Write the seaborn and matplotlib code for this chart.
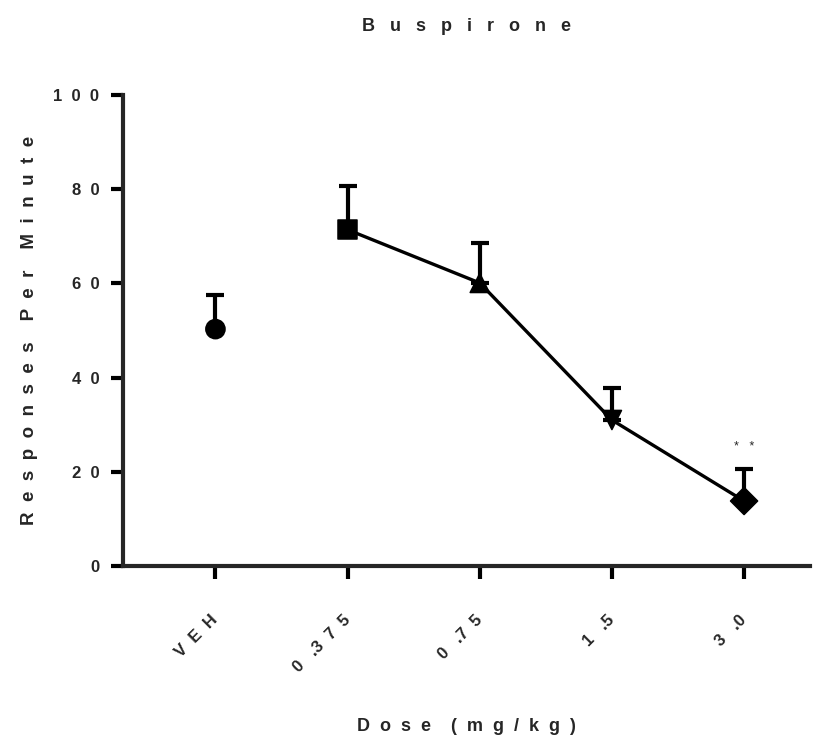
import numpy as np
import pandas as pd
import matplotlib
matplotlib.use("Agg")
import matplotlib.pyplot as plt
import seaborn as sns

# Data
doses = ["VEH", "0.375", "0.75", "1.5", "3.0"]
means = [50.3, 71.4, 60.1, 31.0, 13.8]
sem_upper = [7.2, 9.3, 8.5, 6.8, 6.8]
markers = ["o", "s", "^", "v", "D"]
stars_dose = "3.0"
stars_y = 25.3


def spaced(text, gap=2):
    """Mimic the wide letter spacing of the original figure."""
    words = text.split(" ")
    sep = " " * gap
    return (sep + "  ").join(sep.join(w) for w in words)


def spaced_number(text):
    """Tick labels: the decimal point sits close to the digit after it."""
    out = spaced(text)
    return out.replace(".  ", ".").replace("  .", "   .")


sns.set_style("ticks")
plt.rcParams["font.family"] = ["Liberation Sans", "DejaVu Sans"]
plt.rcParams["font.weight"] = "bold"

df = pd.DataFrame({"dose": doses, "mean": means, "sem": sem_upper})
df["pos"] = np.arange(len(df))

fig = plt.figure(figsize=(8.25, 7.47), dpi=100)
ax = fig.add_axes([0.149, 0.2423, 0.833, 0.6305])

# connecting line for the drug doses (vehicle stays unconnected)
drug = df[df["dose"] != "VEH"]
sns.lineplot(data=drug, x="pos", y="mean", color="black", linewidth=2.4, ax=ax, zorder=2)

# upper-only error bars
ax.errorbar(df["pos"], df["mean"], yerr=[np.zeros(len(df)), df["sem"]],
            fmt="none", ecolor="black", elinewidth=3, capsize=6.5, capthick=3, zorder=1)

# markers
sns.scatterplot(data=df, x="pos", y="mean", style="dose", markers=dict(zip(doses, markers)),
                color="black", s=190, edgecolor="black", legend=False, ax=ax, zorder=3)

ax.text(doses.index(stars_dose), stars_y, "*   *", ha="center", va="center", fontsize=9,
        fontweight="normal")

ax.set_xlim(-0.7, 4.5)
ax.set_ylim(0, 100)
ax.set_yticks(np.arange(0, 101, 20))
ax.set_yticklabels([spaced(str(v)) for v in range(0, 101, 20)], fontsize=12, fontweight="bold")
ax.set_xticks(df["pos"])
ax.set_xticklabels([spaced_number(d) for d in doses], rotation=45, ha="right", va="center",
                   rotation_mode="anchor", fontsize=12, fontweight="bold")

sns.despine(ax=ax)
for side in ["left", "bottom"]:
    ax.spines[side].set_linewidth(3)
ax.tick_params(axis="both", width=3, length=9, color="black")
ax.tick_params(axis="x", pad=28)
ax.tick_params(axis="y", pad=8)

ax.set_xlabel(spaced("Dose (mg/kg)"), fontsize=13, fontweight="bold", labelpad=31)
ax.set_ylabel(spaced("Responses Per Minute"), fontsize=13.5, fontweight="bold", labelpad=11)
ax.set_title(spaced("Buspirone", 3), fontsize=13, fontweight="bold", pad=46)

fig.savefig("out.png", dpi=100)
